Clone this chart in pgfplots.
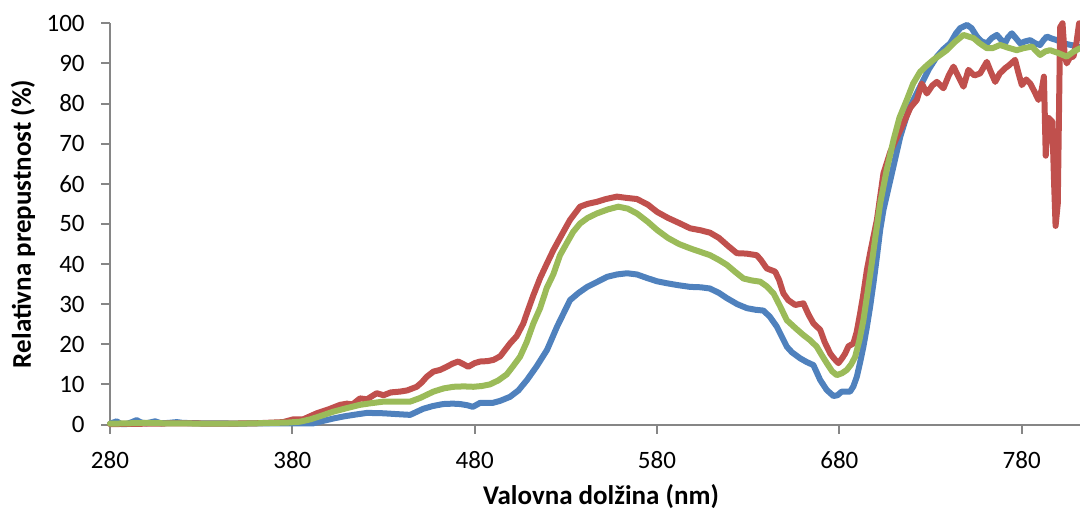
\documentclass[border=0pt]{standalone}
\usepackage{fontspec}
\setmainfont{Carlito}
\usepackage{pgfplots}
\pgfplotsset{compat=1.18}
\definecolor{sblue}{HTML}{4F81BD}
\definecolor{sred}{HTML}{C0504D}
\definecolor{sgreen}{HTML}{9BBB59}
\definecolor{axgray}{HTML}{868686}
\begin{document}
\begin{tikzpicture}
\useasboundingbox (0,0) rectangle (540pt,255pt);
\begin{axis}[
  at={(55pt,42.75pt)}, anchor=south west,
  scale only axis, width=485pt, height=200.6pt,
  xmin=280, xmax=812, ymin=0, ymax=100,
  xtick={280,380,480,580,680,780},
  ytick={0,10,20,30,40,50,60,70,80,90,100},
  axis x line*=bottom, axis y line*=left,
  axis line style={draw=axgray, line width=1pt},
  tick style={draw=axgray, line width=1pt},
  tick align=outside, major tick length=4.5pt,
  /pgf/number format/assume math mode=true,
  ticklabel style={font=\fontsize{12.5}{15}\selectfont, text=black},
  yticklabel style={anchor=east, inner sep=0pt, xshift=-8pt},
  xticklabel style={anchor=north, inner sep=0pt, yshift=-8.6pt},
  xlabel={Valovna dolžina (nm)},
  ylabel={Relativna prepustnost (\%)},
  label style={font=\bfseries\fontsize{13.5}{16}\selectfont},
  xlabel style={at={(axis description cs:0.5,0)}, anchor=base, inner sep=0pt, yshift=-39.75pt, xshift=3pt},
  ylabel style={at={(axis description cs:0,0.5)}, anchor=center, inner sep=0pt, yshift=43.5pt, xshift=0pt},
  clip=false,
  every axis plot/.append style={line width=3pt, line join=round, line cap=round},
]
\addplot[sblue] coordinates {
(280,0.2)(283.7,0.8)(286,0.1)(289,0.1)(292,0.6)(294.6,1.1)(297,0.5)(300,0.3)(304.7,0.8)(308,0.3)(312,0.4)(316.6,0.6)(320,0.4)(330,0.3)(340,0.3)(350,0.2)(360,0.3)(370,0.3)(380,0.3)(391.5,0.3)(396,0.8)(402.5,1.5)(408,2.0)(413.5,2.4)(421,2.9)(430,2.8)(437,2.6)(444.6,2.4)(451.7,3.9)(457,4.6)(462.7,5.1)(468,5.2)(472,5.1)(476,4.8)(479,4.4)(483,5.4)(487,5.4)(490,5.4)(494,5.9)(499.4,6.9)(504,8.5)(508.7,11.1)(514,14.5)(519.7,18.6)(525.2,24.4)(532.3,31)(537,32.8)(541.7,34.3)(547,35.5)(552.6,36.8)(558,37.4)(563.6,37.7)(569,37.4)(574.6,36.5)(580,35.7)(585.5,35.2)(592,34.7)(598.2,34.3)(604,34.2)(609,33.9)(614,32.8)(618.3,31.5)(624,30)(629.3,29)(634,28.6)(638.4,28.4)(642,26.8)(645.7,24.4)(651.2,19.4)(654,18)(658.5,16.5)(662,15.6)(665.8,14.8)(669.5,11.1)(673.1,8.6)(676.8,7.1)(679,7.3)(681.3,8.2)(684,8.2)(685.9,8.2)(687.7,9.5)(689.6,11.9)(691.4,15.5)(693.2,19.4)(695,24)(696.9,29.4)(698.8,35.5)(700.6,41.8)(702.4,48.5)(704.2,53.5)(708,61)(713.4,71.7)(718,78.5)(724.3,84.2)(729,88.5)(733.5,91.7)(737,93.5)(740.8,95)(744,97.5)(746.3,98.8)(750,99.6)(752.5,98.8)(755.4,96.7)(758,95.5)(760.9,95)(763.5,96.3)(766.4,97.1)(768.5,96)(770.9,95)(772.5,96.5)(774.6,97.5)(777,96.2)(779.2,95)(782,95.5)(784.7,95.8)(787.5,95)(790.1,94.6)(792,95.8)(793.8,96.7)(796.5,96.2)(799.3,95.8)(803,95)(808,94.5)(812,94)
};
\addplot[sred] coordinates {
(280,0.1)(300,0.2)(320,0.3)(340,0.2)(360,0.3)(375,0.6)(380.6,1.3)(386,1.3)(393.4,2.8)(400,3.8)(406.2,4.9)(410,5.2)(413,5.0)(417.1,6.5)(421,6.3)(426.3,7.8)(430,7.3)(434,8.0)(439,8.2)(443,8.5)(448.2,9.4)(451,10.5)(453.7,11.9)(457.4,13.2)(461,13.6)(464.7,14.4)(468,15.2)(471,15.7)(474,15.0)(476.5,14.4)(480,15.3)(483,15.7)(487,15.8)(490.3,16.1)(494,17)(499.4,20.2)(503,22)(506.7,25.2)(508.6,27.7)(512,32)(515.9,36.5)(519.5,40)(523.2,43.5)(528,47.5)(532.3,51)(537.8,54.3)(542,55)(547,55.5)(552,56.2)(558,56.8)(563,56.5)(569,56.2)(575,54.8)(580,53)(586,51.5)(592.7,50.1)(598.2,48.9)(604,48.4)(609.1,47.8)(614,46.5)(619,44.5)(623.8,42.7)(629,42.6)(634.7,42.2)(637,41)(640.2,38.9)(644.8,38.1)(647,36)(649.3,32.7)(652,31)(655.8,29.8)(660.3,30.2)(663,27.5)(665.8,25.2)(669.5,23.6)(672,20.5)(675,17.7)(677,16.5)(679.5,15.3)(681.5,16.5)(683.2,17.7)(685,19.5)(687.7,20.2)(689.5,23)(691.4,27.7)(693,32)(695.1,38.5)(697,43)(700.6,51)(704.2,62.6)(708,68)(711,71)(715.2,75.1)(719,79)(722.5,80.9)(725.2,85)(728,82.5)(731,84.5)(733.5,85.4)(737.1,83.8)(740,87)(742.6,89.2)(745,87)(748.1,84.2)(750.8,88.4)(754,87)(757.2,87.5)(760.9,90.4)(763,88)(765.5,85.4)(768,87.5)(770.9,88.8)(773,89.5)(776.4,90.9)(778,88)(780.1,84.6)(782.5,86)(784.7,85)(787,83)(789.2,80.9)(791,83.5)(792.2,86.7)(793.2,67)(794.5,76.5)(796.8,75.5)(797.8,60)(798.6,49.5)(799.8,55)(801.1,99)(802.4,100)(803.6,92)(804.7,90)(806.5,91.5)(808.4,91.7)(810,95)(811.5,100)
};
\addplot[sgreen] coordinates {
(280,0.2)(290,0.3)(300,0.4)(310,0.3)(320,0.3)(330,0.2)(340,0.2)(350,0.2)(360,0.3)(370,0.4)(378,0.5)(384.2,0.7)(390,1.3)(396,2.2)(402.5,3.2)(410,4.1)(417.1,4.9)(423,5.3)(429.9,5.7)(437,5.7)(444.6,5.7)(450,6.6)(457.4,8.2)(463,9.0)(468.3,9.4)(474,9.5)(479.3,9.4)(484,9.6)(488.4,10)(493,11)(497.6,12.5)(501,14.5)(504.9,16.9)(508.5,20.5)(512.2,25.2)(515.9,29)(519.5,34)(523.2,37.5)(526.8,42.2)(530.5,45.2)(534,48)(537.8,50.1)(542,51.5)(547,52.6)(553,53.6)(558.8,54.3)(564,53.8)(569,52.6)(575,50.5)(580,48.5)(586,46.5)(592,45)(598.2,43.9)(604,43)(609.1,42.2)(614,41)(618.3,39.8)(623,38)(627.4,36.4)(632,35.9)(636.6,35.6)(640,34.5)(643.9,32.7)(647.5,29.5)(651.2,26)(656,24)(660.3,22.3)(664,21)(667.6,19.4)(670.5,17.2)(673.1,15.3)(676,13.3)(678.6,12.3)(681.5,12.8)(684.1,13.6)(686.5,15)(688.7,16.9)(691,21)(693.2,26)(695.5,33)(697.8,40.2)(700,47.5)(702.4,55.1)(706,63.5)(709.7,70.9)(713,76.5)(717,80.9)(720.5,85)(724.3,87.9)(728,89.5)(731.6,90.9)(735,92)(738.9,93.3)(743,95.2)(748.1,97.1)(753.6,96.3)(757,95)(760.9,93.8)(764,93.8)(768.2,94.6)(772,94)(777.3,93.3)(781,93.8)(785.6,94.2)(790.1,92.1)(793,93)(795.6,93.3)(800,92.6)(804.7,91.7)(808,92.8)(812,93.8)
};
\end{axis}
\end{tikzpicture}
\end{document}
